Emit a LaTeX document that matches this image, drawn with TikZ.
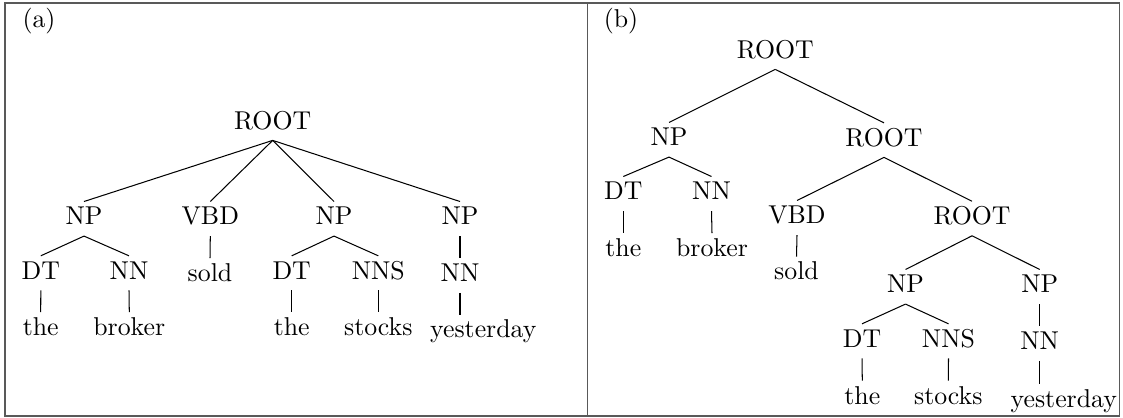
\documentclass[tikz,border=0pt]{standalone}
\begin{document}
\begin{tikzpicture}[x=0.3876pt, y=-0.3876pt,
  tn/.style={anchor=base, inner sep=0.5pt, text height=8.4pt, text depth=3.6pt},
  lbl/.style={anchor=base west, inner sep=0pt},
  frame/.style={draw=black!65, line width=0.5pt},
  edge/.style={draw=black, line width=0.4pt}]
\useasboundingbox (0,0) rectangle (1123,418);

% outer frame and divider
\draw[frame] (5,3) rectangle (1119.5,416);
\draw[frame] (587.7,3) -- (587.7,416);

\node[lbl] (la) at (22,27.5) {(a)};
\node[lbl] (lb) at (603.3,27.5) {(b)};

% ---- tree (a): flat ROOT ----
\node[tn] (rootA) at (272.7,129.3) {ROOT};
\node[tn] (npA1) at (84,225) {NP};
\node[tn] (vbdA) at (210.3,225) {VBD};
\node[tn] (npA2) at (334,225) {NP};
\node[tn] (npA3) at (460,225) {NP};
\node[tn] (dtA1) at (40.8,279.3) {DT};
\node[tn] (nnA1) at (129,279.3) {NN};
\node[tn] (soldA) at (210,281.7) {sold};
\node[tn] (dtA2) at (291.7,279.3) {DT};
\node[tn] (nnsA) at (378.3,279.3) {NNS};
\node[tn] (nnA2) at (460,281.7) {NN};
\node[tn] (theA1) at (40.7,335.5) {the};
\node[tn] (brokerA) at (129.3,335.5) {broker};
\node[tn] (theA2) at (291.7,335.5) {the};
\node[tn] (stocksA) at (378.3,335.5) {stocks};
\node[tn] (yestA) at (483.3,338) {yesterday};

\foreach \c in {npA1,vbdA,npA2,npA3} \draw[edge] (rootA.south) -- (\c.north);
\draw[edge] (npA1.south) -- (dtA1.north);
\draw[edge] (npA1.south) -- (nnA1.north);
\draw[edge] (vbdA.south) -- (soldA.north);
\draw[edge] (npA2.south) -- (dtA2.north);
\draw[edge] (npA2.south) -- (nnsA.north);
\draw[edge] (npA3.south) -- (nnA2.north);
\draw[edge] (dtA1.south) -- (theA1.north);
\draw[edge] (nnA1.south) -- (brokerA.north);
\draw[edge] (dtA2.south) -- (theA2.north);
\draw[edge] (nnsA.south) -- (stocksA.north);
\draw[edge] (nnA2.south) -- (nnA2.south |- yestA.north);

% ---- tree (b): right-branching binary ROOT ----
\node[tn] (rootB) at (775.3,58.3) {ROOT};
\node[tn] (npB1) at (669,146) {NP};
\node[tn] (rootB2) at (884,146.3) {ROOT};
\node[tn] (dtB1) at (623.3,200) {DT};
\node[tn] (nnB1) at (711.5,200) {NN};
\node[tn] (vbdB) at (797,224) {VBD};
\node[tn] (rootB3) at (972,224.7) {ROOT};
\node[tn] (theB1) at (623.3,256.7) {the};
\node[tn] (brokerB) at (712,256.7) {broker};
\node[tn] (soldB) at (796.5,280) {sold};
\node[tn] (npB2) at (905.5,293) {NP};
\node[tn] (npB3) at (1039.7,293) {NP};
\node[tn] (dtB2) at (862,347.3) {DT};
\node[tn] (nnsB) at (948.5,347.3) {NNS};
\node[tn] (nnB2) at (1039.7,349.7) {NN};
\node[tn] (theB2) at (862.3,404) {the};
\node[tn] (stocksB) at (948.3,404) {stocks};
\node[tn] (yestB) at (1063.8,407.3) {yesterday};

\draw[edge] (rootB.south) -- (npB1.north);
\draw[edge] (rootB.south) -- (rootB2.north);
\draw[edge] (npB1.south) -- (dtB1.north);
\draw[edge] (npB1.south) -- (nnB1.north);
\draw[edge] (dtB1.south) -- (theB1.north);
\draw[edge] (nnB1.south) -- (brokerB.north);
\draw[edge] (rootB2.south) -- (vbdB.north);
\draw[edge] (rootB2.south) -- (rootB3.north);
\draw[edge] (vbdB.south) -- (soldB.north);
\draw[edge] (rootB3.south) -- (npB2.north);
\draw[edge] (rootB3.south) -- (npB3.north);
\draw[edge] (npB2.south) -- (dtB2.north);
\draw[edge] (npB2.south) -- (nnsB.north);
\draw[edge] (npB3.south) -- (nnB2.north);
\draw[edge] (dtB2.south) -- (theB2.north);
\draw[edge] (nnsB.south) -- (stocksB.north);
\draw[edge] (nnB2.south) -- (nnB2.south |- yestB.north);
\end{tikzpicture}
\end{document}
